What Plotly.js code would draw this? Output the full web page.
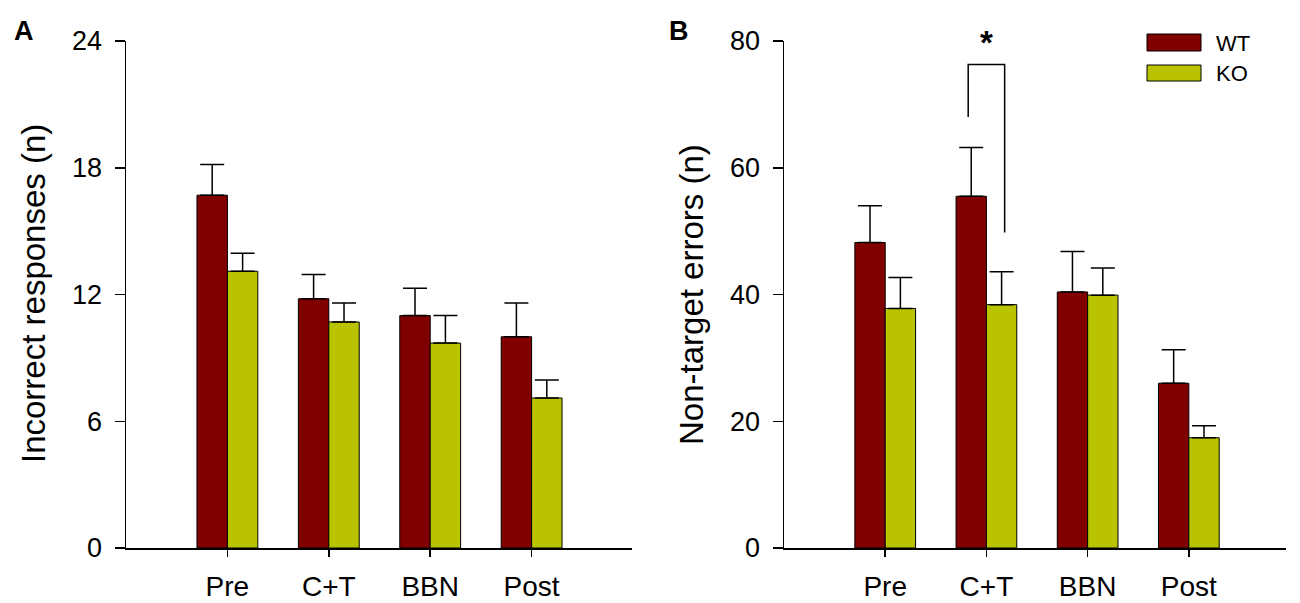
<!DOCTYPE html>
<html>
<head>
<meta charset="utf-8">
<script src="https://cdn.plot.ly/plotly-3.0.1.min.js"></script>
<style>
  html, body { margin: 0; padding: 0; background: #fff; }
  #chart { width: 1300px; height: 603px; }
</style>
</head>
<body>
<div id="chart"></div>
<script>
// session labels
const sessions = ['Pre', 'C+T', 'BBN', 'Post'];

// panel A: incorrect responses (mean, SEM)
const incorrectWT = [16.7, 11.8, 11.0, 10.0];
const incorrectWTErr = [1.45, 1.15, 1.3, 1.6];
const incorrectKO = [13.1, 10.7, 9.7, 7.1];
const incorrectKOErr = [0.85, 0.9, 1.3, 0.85];

// panel B: non-target errors (mean, SEM)
const nonTargetWT = [48.2, 55.5, 40.4, 26.0];
const nonTargetWTErr = [5.8, 7.7, 6.4, 5.3];
const nonTargetKO = [37.8, 38.4, 39.9, 17.4];
const nonTargetKOErr = [4.9, 5.2, 4.3, 1.9];

const groupNames = ['WT', 'KO'];
const groupColors = ['#800000', '#bac300'];

const fontFamily = 'Arial, "Liberation Sans", sans-serif';
const W = 1300, H = 603;

// pixel helpers for paper-referenced decorations
const px = v => v / W;
const py = v => 1 - v / H;

function barTrace(xa, ya, y, err, i) {
  return {
    type: 'bar',
    x: sessions,
    y: y,
    name: groupNames[i],
    xaxis: xa,
    yaxis: ya,
    marker: {
      color: groupColors[i],
      line: { color: '#000', width: 1 },
    },
    error_y: {
      type: 'data',
      symmetric: false,
      array: err,
      arrayminus: y.map(() => 0),
      color: '#000',
      thickness: 1.5,
      width: 12,
    },
    showlegend: false,
    hoverinfo: 'x+y',
  };
}

const data = [
  barTrace('x', 'y', incorrectWT, incorrectWTErr, 0),
  barTrace('x', 'y', incorrectKO, incorrectKOErr, 1),
  barTrace('x2', 'y2', nonTargetWT, nonTargetWTErr, 0),
  barTrace('x2', 'y2', nonTargetKO, nonTargetKOErr, 1),
];

const xaxisBase = {
  type: 'category',
  showline: true,
  linecolor: '#000',
  linewidth: 1.5,
  ticks: 'outside',
  ticklen: 7,
  tickwidth: 1.5,
  tickcolor: '#000',
  ticklabelstandoff: 6,
  showgrid: false,
  zeroline: false,
  fixedrange: true,
  tickfont: { family: fontFamily, size: 28, color: '#000' },
};

const yaxisBase = {
  showline: true,
  linecolor: '#000',
  linewidth: 1.5,
  ticks: 'outside',
  ticklen: 10,
  tickwidth: 1.5,
  tickcolor: '#000',
  ticklabelstandoff: 7,
  showgrid: false,
  zeroline: false,
  fixedrange: true,
  domain: [55 / H, 562 / H],
  tickfont: { family: fontFamily, size: 27, color: '#000' },
};

const layout = {
  width: W,
  height: H,
  margin: { l: 0, r: 0, t: 0, b: 0 },
  paper_bgcolor: '#fff',
  plot_bgcolor: '#fff',
  barmode: 'group',
  bargap: 0.4,
  bargroupgap: 0,
  font: { family: fontFamily, color: '#000' },
  xaxis: Object.assign({}, xaxisBase, {
    domain: [px(126), px(632)],
    range: [-1, 3.99],
    anchor: 'y',
  }),
  yaxis: Object.assign({}, yaxisBase, {
    range: [0, 24],
    tickvals: [0, 6, 12, 18, 24],
    anchor: 'x',
  }),
  xaxis2: Object.assign({}, xaxisBase, {
    domain: [px(784), px(1286)],
    range: [-1, 3.96],
    anchor: 'y2',
  }),
  yaxis2: Object.assign({}, yaxisBase, {
    range: [0, 80],
    tickvals: [0, 20, 40, 60, 80],
    anchor: 'x2',
  }),
  shapes: [
    // significance bracket over C+T in panel B
    {
      type: 'path',
      xref: 'x2',
      yref: 'y2',
      path: 'M 0.82,68 L 0.82,76.3 L 1.18,76.3 L 1.18,49.8',
      line: { color: '#000', width: 1.5 },
    },
    // legend swatches
    {
      type: 'rect', xref: 'paper', yref: 'paper',
      x0: px(1147), x1: px(1201), y0: py(51), y1: py(34),
      fillcolor: groupColors[0], line: { color: '#000', width: 1 },
    },
    {
      type: 'rect', xref: 'paper', yref: 'paper',
      x0: px(1147), x1: px(1201), y0: py(81), y1: py(65),
      fillcolor: groupColors[1], line: { color: '#000', width: 1 },
    },
  ],
  annotations: [
    {
      text: 'A', xref: 'paper', yref: 'paper', x: px(12), y: py(31),
      xanchor: 'left', yanchor: 'middle', showarrow: false,
      font: { family: fontFamily, size: 27, weight: 'bold' },
    },
    {
      text: 'B', xref: 'paper', yref: 'paper', x: px(667), y: py(31),
      xanchor: 'left', yanchor: 'middle', showarrow: false,
      font: { family: fontFamily, size: 27, weight: 'bold' },
    },
    {
      text: 'Incorrect responses (n)', xref: 'paper', yref: 'paper',
      x: px(33), y: py(294), textangle: -90,
      xanchor: 'center', yanchor: 'middle', showarrow: false,
      font: { family: fontFamily, size: 33 },
    },
    {
      text: 'Non-target errors (n)', xref: 'paper', yref: 'paper',
      x: px(691), y: py(295), textangle: -90,
      xanchor: 'center', yanchor: 'middle', showarrow: false,
      font: { family: fontFamily, size: 33 },
    },
    {
      text: '*', xref: 'x2', yref: 'paper', x: 1, y: py(42),
      xanchor: 'center', yanchor: 'middle', showarrow: false,
      font: { family: fontFamily, size: 33, weight: 'bold' },
    },
    {
      text: groupNames[0], xref: 'paper', yref: 'paper', x: px(1214), y: py(43),
      xanchor: 'left', yanchor: 'middle', showarrow: false,
      font: { family: fontFamily, size: 22 },
    },
    {
      text: groupNames[1], xref: 'paper', yref: 'paper', x: px(1214), y: py(73),
      xanchor: 'left', yanchor: 'middle', showarrow: false,
      font: { family: fontFamily, size: 22 },
    },
  ],
};

Plotly.newPlot('chart', data, layout, { displayModeBar: false, staticPlot: true });
</script>
</body>
</html>
